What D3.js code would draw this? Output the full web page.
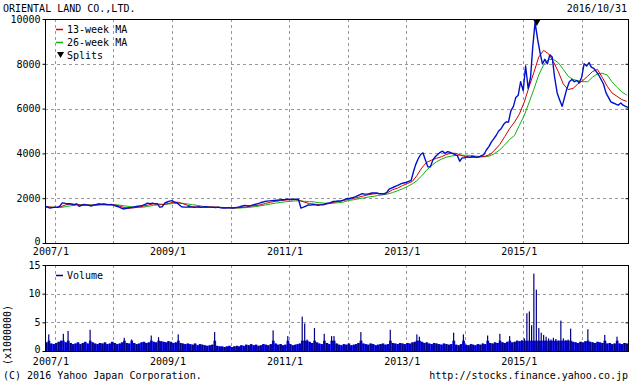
<!DOCTYPE html>
<html>
<head>
<meta charset="utf-8">
<script src="https://cdn.jsdelivr.net/npm/d3@7"></script>
<style>
body { margin: 0; background: #fff; }
text { font-family: "DejaVu Sans Mono", monospace; font-size: 10px; fill: #000; }
</style>
</head>
<body>
<div id="chart"></div>
<script>
// closes on the 1st and 16th of each month, 2006/11 - 2016/10 (split adjusted)
const price = [
  1640,1600,1560,1580,1600,1590,1650,1790,1780,1750,1760,1730,1700,1750,1640,1680,1720,1700,1680,1650,1700,1720,1750,1730,
  1740,1720,1700,1720,1690,1650,1620,1570,1520,1540,1560,1580,1600,1620,1640,1660,1680,1720,1780,1760,1780,1750,1750,1600,
  1620,1780,1830,1870,1890,1820,1790,1700,1620,1600,1600,1620,1610,1590,1600,1620,1590,1610,1620,1600,1600,1590,1580,1600,
  1570,1560,1560,1580,1570,1560,1580,1600,1620,1650,1680,1660,1650,1690,1720,1750,1780,1820,1850,1870,1880,1890,1900,1910,
  1920,1930,1930,1950,1960,1940,1950,1960,1940,1560,1600,1650,1700,1690,1720,1700,1680,1700,1700,1740,1780,1800,1850,1860,
  1880,1870,1900,1950,1990,2000,2020,2060,2100,2150,2200,2180,2180,2200,2230,2240,2230,2200,2200,2180,2250,2400,2450,2500,
  2550,2600,2650,2680,2700,2750,2800,3200,3500,3750,3950,4020,3700,3400,3400,3700,3850,3950,4050,4100,4000,4080,4050,4000,
  3950,3900,3650,3800,3800,3850,3820,3870,3850,3820,3850,3900,3950,4150,4300,4500,4650,4800,5000,5100,5300,5400,5400,5900,
  6100,6500,6600,7200,6800,7900,6900,7400,8700,9850,9100,8500,8000,8200,8000,8400,8300,7400,6700,6400,6100,6500,6900,7200,
  7300,7200,7250,7150,7400,8000,7900,8050,7850,7800,7650,7500,7300,7100,6700,6500,6300,6250,6200,6150,6250,6150,6100,6050
];

// moving averages, one value per month, 2006/11 - 2016/10
const ma13 = [
  1620,1600,1590,1620,1700,1740,1730,1700,1690,1690,1690,1710,
  1730,1720,1700,1650,1580,1550,1570,1610,1650,1700,1750,1740,
  1720,1760,1820,1820,1760,1680,1620,1610,1600,1600,1610,1600,
  1580,1570,1570,1570,1580,1610,1650,1670,1710,1770,1820,1860,
  1890,1920,1930,1940,1900,1820,1760,1730,1720,1730,1760,1820,
  1860,1900,1950,1990,2040,2100,2150,2190,2210,2200,2250,2380,
  2450,2560,2650,2750,3000,3350,3600,3700,3780,3850,3950,4010,
  4000,3920,3850,3820,3830,3840,3870,3950,4150,4400,4750,5100,
  5400,5750,6300,7000,7600,8300,8600,8450,8100,7650,7100,6850,
  6900,7100,7250,7450,7650,7750,7400,7000,6700,6550,6400,6320
];
const ma26 = [
  1600,1600,1590,1590,1620,1660,1690,1710,1710,1700,1690,1700,
  1700,1710,1710,1690,1660,1630,1600,1590,1600,1640,1680,1710,
  1720,1740,1760,1780,1770,1740,1710,1680,1640,1610,1600,1600,
  1590,1580,1560,1560,1570,1580,1600,1630,1660,1700,1740,1780,
  1810,1840,1860,1880,1880,1860,1850,1830,1800,1780,1770,1780,
  1800,1830,1900,1930,1970,2010,2050,2080,2120,2150,2190,2250,
  2330,2420,2520,2640,2780,3000,3250,3450,3620,3740,3830,3880,
  3910,3920,3920,3910,3880,3860,3850,3890,4000,4160,4380,4620,
  4800,5250,5700,6300,6850,7500,7950,8200,8200,8050,7750,7450,
  7300,7250,7200,7200,7400,7550,7580,7500,7200,6950,6750,6600
];

// volume in millions of shares, same half-month steps as price
const volume = [
  1.5,2.9,1.3,1.2,1.4,1.6,1.8,3.0,1.5,3.5,1.4,1.2,1.3,1.5,1.2,1.4,1.6,1.3,3.7,1.5,1.3,1.2,1.4,1.3,
  1.5,1.2,1.3,1.6,1.4,1.2,1.3,1.5,2.3,1.4,1.3,2.0,1.4,1.2,1.3,1.5,1.6,1.4,1.5,2.7,1.6,1.5,2.4,1.7,
  1.6,1.5,1.7,1.6,1.4,1.5,2.9,1.4,1.3,1.2,1.3,1.2,1.1,1.3,1.0,1.2,1.1,1.0,0.9,1.0,1.1,3.3,0.9,0.8,
  0.8,0.7,0.8,0.9,0.7,0.8,0.9,0.8,1.0,0.9,1.1,1.0,1.2,1.0,1.1,0.9,1.0,1.2,1.1,1.0,1.2,3.6,1.3,1.1,
  1.2,1.0,1.1,2.6,1.2,1.0,1.1,1.2,1.3,6.0,4.8,2.0,1.6,1.4,4.0,1.5,1.3,1.2,3.0,1.4,1.2,2.6,2.6,1.3,
  1.1,1.0,1.2,1.1,1.3,1.0,1.1,1.2,1.4,3.3,1.3,1.2,1.1,1.3,1.2,1.0,1.1,1.2,1.3,1.1,1.2,3.7,1.4,1.3,
  1.2,1.4,1.3,1.2,1.4,1.3,1.5,1.6,2.9,2.5,1.6,1.4,1.5,1.3,1.2,1.4,1.3,1.2,1.1,1.3,1.2,1.1,1.2,3.2,
  1.1,1.0,1.2,2.9,1.1,1.0,1.2,1.1,1.0,1.2,1.1,1.3,1.2,2.7,1.4,1.3,1.5,1.4,3.0,1.5,1.4,1.6,2.6,1.5,
  1.6,1.8,1.7,1.9,2.2,6.6,6.9,4.5,13.5,10.7,4.0,3.2,2.8,2.5,2.2,2.0,2.3,2.1,1.8,5.3,2.2,1.9,2.0,3.9,
  1.6,1.5,1.4,1.6,1.5,1.7,3.8,1.6,1.5,1.4,1.6,1.5,1.4,2.8,1.3,1.4,1.2,1.3,2.5,1.3,1.2,1.4,1.3,2.2
];

const priceTicks = [0, 2000, 4000, 6000, 8000, 10000];
const volumeTicks = [0, 5, 10, 15];
const gridYears = [2007, 2008, 2009, 2010, 2011, 2012, 2013, 2014, 2015, 2016];
const labelYears = [2007, 2009, 2011, 2013, 2015];
const splits = [new Date(2015, 2, 27)];
const legendItems = [
  {name: "13-week MA", color: "#d00000"},
  {name: "26-week MA", color: "#10b010"}
];

// dates for the series
const halfMonthDates = d3.range(price.length).map(i => new Date(2006, 10 + Math.floor(i / 2), i % 2 ? 16 : 1));
const monthDates = d3.range(ma13.length).map(i => new Date(2006, 10 + i, 8));

const W = 630, H = 382;
const pl = {left: 45, right: 628, top: 19, bottom: 243};
const vl = {top: 265, bottom: 351};

const svg = d3.select("#chart").append("svg")
  .attr("width", W)
  .attr("height", H)
  .style("background", "#fff");

// scales
const x = d3.scaleTime()
  .domain([new Date(2006, 9, 31), new Date(2016, 9, 16)])
  .range([pl.left, pl.right]);
const y = d3.scaleLinear().domain([0, 10000]).range([pl.bottom, pl.top]);
const yv = d3.scaleLinear().domain([0, 15]).range([vl.bottom, vl.top]);
const yearDate = yr => new Date(yr, 0, 1);

// clip areas
const defs = svg.append("defs");
defs.append("clipPath").attr("id", "clipMain").append("rect")
  .attr("x", pl.left).attr("y", pl.top).attr("width", pl.right - pl.left).attr("height", pl.bottom - pl.top);
defs.append("clipPath").attr("id", "clipVol").append("rect")
  .attr("x", pl.left).attr("y", vl.top).attr("width", pl.right - pl.left).attr("height", vl.bottom - vl.top);

// grid lines
function grid(top, bottom, yScale, values) {
  const g = svg.append("g")
    .attr("stroke", "#999")
    .attr("stroke-dasharray", "3,3")
    .attr("shape-rendering", "crispEdges");
  g.selectAll(".vg").data(gridYears).enter().append("line")
    .attr("x1", d => Math.round(x(yearDate(d))) + 0.5)
    .attr("x2", d => Math.round(x(yearDate(d))) + 0.5)
    .attr("y1", top).attr("y2", bottom);
  g.selectAll(".hg").data(values).enter().append("line")
    .attr("x1", pl.left).attr("x2", pl.right)
    .attr("y1", d => Math.round(yScale(d)) + 0.5)
    .attr("y2", d => Math.round(yScale(d)) + 0.5);
}
grid(pl.top, pl.bottom, y, [2000, 4000, 6000, 8000]);
grid(vl.top, vl.bottom, yv, [5, 10]);

// price + moving averages
const main = svg.append("g").attr("clip-path", "url(#clipMain)");

const maLine = d3.line().x((d, i) => x(monthDates[i])).y(d => y(d));
main.append("path").datum(ma26)
  .attr("fill", "none").attr("stroke", legendItems[1].color).attr("stroke-width", 1)
  .attr("d", maLine);
main.append("path").datum(ma13)
  .attr("fill", "none").attr("stroke", legendItems[0].color).attr("stroke-width", 1)
  .attr("d", maLine);
main.append("path").datum(price)
  .attr("fill", "none").attr("stroke", "#0010c8").attr("stroke-width", 1.4)
  .attr("stroke-linejoin", "round")
  .attr("d", d3.line().x((d, i) => x(halfMonthDates[i])).y(d => y(d)));

// split markers
svg.selectAll(".split").data(splits).enter().append("path")
  .attr("d", d => {
    const cx = x(d);
    return `M${cx - 4},${pl.top} L${cx + 4},${pl.top} L${cx},${pl.top + 7} Z`;
  })
  .attr("fill", "#000");

// volume bars
const vol = svg.append("g").attr("clip-path", "url(#clipVol)");
const barW = i => (i < volume.length - 1 ? x(halfMonthDates[i + 1]) : pl.right + 2) - x(halfMonthDates[i]);
vol.selectAll(".vb").data(volume).enter().append("rect")
  .attr("x", (d, i) => x(halfMonthDates[i]))
  .attr("width", (d, i) => barW(i) + 0.3)
  .attr("y", d => yv(Math.min(d, 1.8)))
  .attr("height", d => vl.bottom - yv(Math.min(d, 1.8)))
  .attr("fill", "#0a0aee");
vol.selectAll(".vs").data(volume).enter().append("rect")
  .attr("x", (d, i) => x(halfMonthDates[i]) + barW(i) / 2 - 0.6)
  .attr("width", 1.2)
  .attr("y", d => yv(d))
  .attr("height", d => vl.bottom - yv(d))
  .attr("fill", "#000080");

// frames
[[pl.top, pl.bottom], [vl.top, vl.bottom]].forEach(([t, b]) => {
  svg.append("rect")
    .attr("x", pl.left + 0.5).attr("y", t + 0.5)
    .attr("width", pl.right - pl.left).attr("height", b - t)
    .attr("fill", "none").attr("stroke", "#000")
    .attr("shape-rendering", "crispEdges");
});

// y axes
const yAxis = svg.append("g")
  .attr("transform", `translate(${pl.left + 0.5},0)`)
  .call(d3.axisLeft(y).tickValues(priceTicks).tickSize(3).tickPadding(2).tickFormat(d3.format("d")));
const vAxis = svg.append("g")
  .attr("transform", `translate(${pl.left + 0.5},0)`)
  .call(d3.axisLeft(yv).tickValues(volumeTicks).tickSize(3).tickPadding(2).tickFormat(d3.format("d")));
[yAxis, vAxis].forEach(a => {
  a.select(".domain").remove();
  a.selectAll("text").style("font-family", '"DejaVu Sans Mono", monospace').style("font-size", "10px");
  a.selectAll(".tick").filter(d => d === 0).select("text").attr("dy", "0.1em");
});

// right side inner ticks
[[y, priceTicks], [yv, volumeTicks]].forEach(([sc, vals]) => {
  svg.append("g")
    .attr("transform", `translate(${pl.right + 0.5},0)`)
    .call(d3.axisLeft(sc).tickValues(vals).tickSize(3).tickFormat(""))
    .select(".domain").remove();
});

// x labels under both panels
[pl.bottom + 12, vl.bottom + 14].forEach(base => {
  svg.selectAll(null).data(labelYears).enter().append("text")
    .attr("x", d => x(yearDate(d)) - 4)
    .attr("y", base)
    .attr("text-anchor", "middle")
    .text(d => d + "/1");
});

// legends
legendItems.forEach((it, i) => {
  const ly = 29 + i * 13;
  svg.append("line").attr("x1", 56).attr("x2", 63).attr("y1", ly + 0.5).attr("y2", ly + 0.5)
    .attr("stroke", it.color).attr("stroke-width", 1.5);
  svg.append("text").attr("x", 67).attr("y", ly + 3.5).text(it.name);
});
svg.append("path").attr("d", "M57,52 L64,52 L60.5,58 Z").attr("fill", "#000");
svg.append("text").attr("x", 67).attr("y", 58.5).text("Splits");

svg.append("line").attr("x1", 56).attr("x2", 63).attr("y1", 275.5).attr("y2", 275.5)
  .attr("stroke", "#000080").attr("stroke-width", 1.5);
svg.append("text").attr("x", 67).attr("y", 279).text("Volume");

// titles and footer
svg.append("text").attr("x", 3).attr("y", 12).text("ORIENTAL LAND CO.,LTD.");
svg.append("text").attr("x", 627).attr("y", 12).attr("text-anchor", "end").text("2016/10/31");
svg.append("text")
  .attr("transform", "translate(11,335) rotate(-90)")
  .attr("text-anchor", "middle")
  .text("(x1000000)");
svg.append("text").attr("x", 3).attr("y", 379).text("(C) 2016 Yahoo Japan Corporation.");
svg.append("text").attr("x", 628).attr("y", 379).attr("text-anchor", "end").text("http://stocks.finance.yahoo.co.jp");
</script>
</body>
</html>
